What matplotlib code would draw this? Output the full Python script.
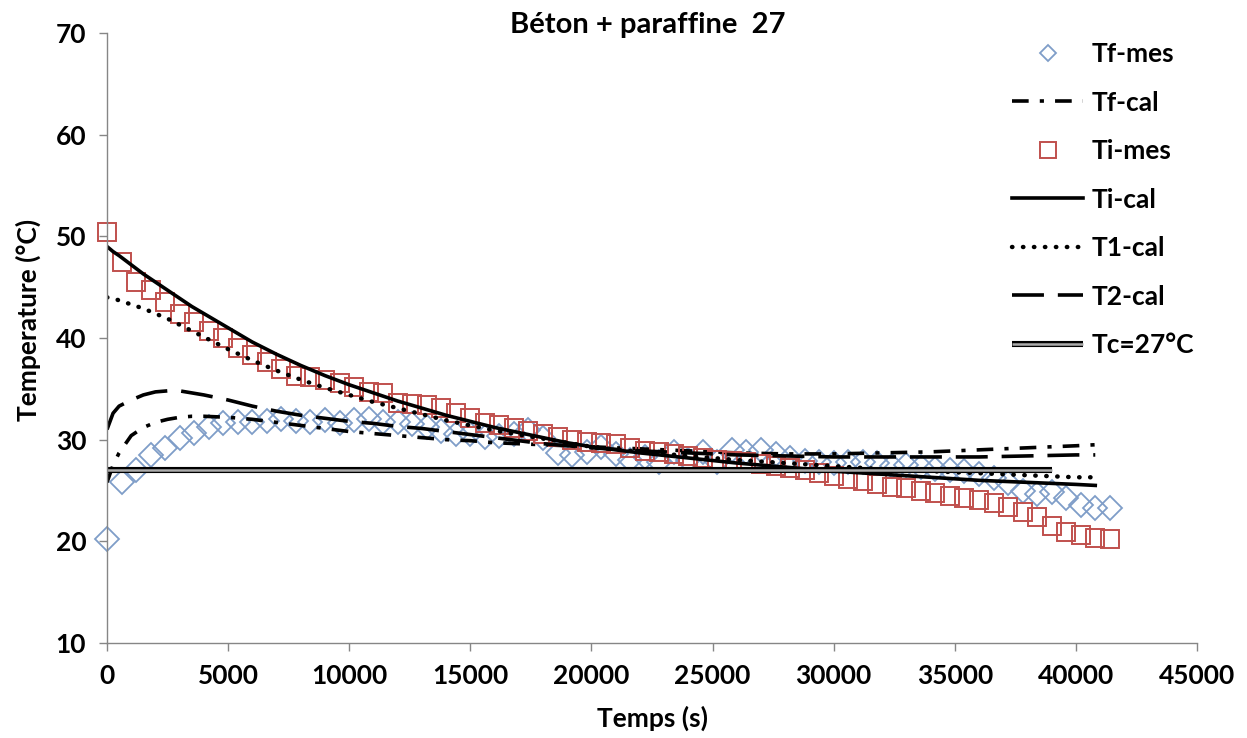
import matplotlib
matplotlib.use("Agg")
import matplotlib.pyplot as plt
import matplotlib.patheffects as pe

plt.rcParams['font.family'] = ['Lato', 'DejaVu Sans']
plt.rcParams['font.weight'] = 'bold'
plt.rcParams['lines.scale_dashes'] = False

# ---------------- data ----------------
t_mes = list(range(0, 41401, 600))

tf_mes = [20.2, 25.8, 27.0, 28.5, 29.2, 30.2, 30.7, 31.2, 31.6, 31.7,
          31.7, 31.8, 32.0, 31.8, 31.7, 31.9, 31.6, 31.9, 32.0, 31.7,
          31.7, 31.5, 31.2, 30.9, 30.6, 30.6, 30.3, 30.4, 30.6, 31.0,
          30.2, 28.7, 28.5, 28.8, 29.3, 28.6, 28.0, 28.3, 27.8, 28.8,
          28.0, 28.8, 27.8, 29.0, 28.8, 29.0, 28.6, 28.2, 27.9, 27.8,
          27.7, 27.8, 27.8, 27.7, 27.4, 27.5, 27.3, 27.1, 27.0, 26.9,
          26.6, 26.2, 25.7, 25.0, 24.7, 24.9, 24.3, 23.6, 23.3, 23.3]

ti_mes = [50.4, 47.5, 45.5, 44.7, 43.5, 42.4, 41.6, 40.7, 40.0, 39.0,
          38.3, 37.6, 37.0, 36.3, 36.2, 35.9, 35.6, 35.2, 34.7, 34.6,
          33.6, 33.5, 33.4, 33.1, 32.6, 32.1, 31.6, 31.4, 31.1, 30.9,
          30.6, 30.3, 30.0, 29.8, 29.7, 29.6, 29.2, 28.9, 28.8, 28.6,
          28.4, 28.2, 28.0, 27.9, 27.8, 27.6, 27.4, 27.2, 27.0, 26.7,
          26.4, 26.1, 25.9, 25.6, 25.3, 25.2, 25.0, 24.8, 24.5, 24.3,
          24.1, 23.8, 23.4, 22.9, 22.4, 21.5, 20.9, 20.6, 20.3, 20.2]

t_cal = [0, 250, 500, 1000, 1500, 2000, 2500, 3000, 3500, 4000, 5000,
         6000, 7000, 8000, 9000, 10000, 11000, 12000, 13000, 14000, 15000,
         16000, 17000, 18000, 19000, 20000, 22000, 24000, 26000, 28000,
         30000, 32000, 34000, 36000, 38000, 40000, 40800]

tf_cal = [25.8, 27.5, 28.7, 30.4, 31.2, 31.7, 32.0, 32.2, 32.3, 32.3, 32.2,
          32.0, 31.7, 31.4, 31.1, 30.8, 30.6, 30.4, 30.2, 30.0, 29.9,
          29.7, 29.6, 29.5, 29.4, 29.3, 29.1, 28.9, 28.7, 28.6,
          28.6, 28.7, 28.8, 29.0, 29.2, 29.4, 29.5]

ti_cal = [49.0, 48.5, 48.1, 47.2, 46.3, 45.5, 44.7, 43.9, 43.1, 42.4, 41.0,
          39.6, 38.4, 37.3, 36.3, 35.4, 34.6, 33.8, 33.1, 32.4, 31.8,
          31.2, 30.7, 30.2, 29.7, 29.3, 28.7, 28.2, 27.7, 27.3,
          26.9, 26.6, 26.3, 26.0, 25.8, 25.6, 25.5]

t1_cal = [44.0, 43.9, 43.7, 43.3, 42.9, 42.4, 41.9, 41.3, 40.7, 40.1, 38.9,
          37.8, 36.8, 35.9, 35.1, 34.4, 33.7, 33.1, 32.5, 31.9, 31.4,
          30.9, 30.5, 30.1, 29.7, 29.3, 28.8, 28.4, 28.0, 27.7,
          27.4, 27.1, 26.9, 26.7, 26.5, 26.3, 26.3]

t2_cal = [31.0, 32.6, 33.3, 33.9, 34.4, 34.7, 34.8, 34.8, 34.6, 34.4, 33.9,
          33.3, 32.8, 32.4, 32.1, 31.8, 31.6, 31.3, 31.1, 30.8, 30.5,
          30.2, 29.9, 29.6, 29.4, 29.2, 28.9, 28.7, 28.5, 28.4,
          28.3, 28.3, 28.3, 28.3, 28.4, 28.5, 28.5]

t_tc = [0, 39000]
tc = [27, 27]

title = "Béton + paraffine  27"
xlabel = "Temps (s)"
ylabel = "Temperature (°C)"
xticks = list(range(0, 45001, 5000))
yticks = list(range(10, 71, 10))

# ---------------- figure ----------------
W, H = 1247, 738
fig = plt.figure(figsize=(W / 100, H / 100), dpi=100)
ax = fig.add_axes([107 / W, 1 - 643 / H, (1197 - 107) / W, (643 - 33) / H])

FS = 19
blue = '#7f9dc8'
red = '#c0504d'

l_tfm, = ax.plot(t_mes, tf_mes, linestyle='none', marker='D', ms=12,
                 mfc='none', mec=blue, mew=1.3, clip_on=False, label='Tf-mes')
l_tfc, = ax.plot(t_cal, tf_cal, color='black', lw=2.6,
                 dashes=(12, 8, 3, 8), label='Tf-cal')
l_tim, = ax.plot(t_mes, ti_mes, linestyle='none', marker='s', ms=13.5,
                 mfc='none', mec=red, mew=1.4, clip_on=False, label='Ti-mes')
l_tic, = ax.plot(t_cal, ti_cal, color='black', lw=2.6, label='Ti-cal')
l_t1, = ax.plot(t_cal, t1_cal, color='black', lw=3.2, dashes=(0.3, 7.6),
                dash_capstyle='round', label='T1-cal')
l_t2, = ax.plot(t_cal, t2_cal, color='black', lw=2.6, dashes=(23, 10),
                label='T2-cal')
l_tc, = ax.plot(t_tc, tc, color='#ababab', lw=1.8, solid_capstyle='butt',
                path_effects=[pe.Stroke(linewidth=4.4, foreground='black'),
                              pe.Normal()], label='Tc=27°C')

ax.set_xlim(0, 45000)
ax.set_ylim(10, 70)
ax.set_xticks(xticks)
ax.set_yticks(yticks)
ax.tick_params(direction='out', length=6, width=1, color='#868686',
               labelsize=FS, pad=9)
for s in ['top', 'right']:
    ax.spines[s].set_visible(False)
for s in ['left', 'bottom']:
    ax.spines[s].set_color('#868686')
    ax.spines[s].set_linewidth(1)

fig.text(648 / W, 1 - 25 / H, title, ha='center', va='center',
         fontsize=21, fontweight='bold')
fig.text(652 / W, 1 - 718 / H, xlabel, ha='center', va='center',
         fontsize=FS, fontweight='bold')
fig.text(28 / W, 1 - 320 / H, ylabel, ha='center', va='center',
         rotation=90, fontsize=FS, fontweight='bold')

leg = ax.legend(handles=[l_tfm, l_tfc, l_tim, l_tic, l_t1, l_t2, l_tc],
                loc='upper left', bbox_to_anchor=(1012 / W, 1 - 42 / H),
                bbox_transform=fig.transFigure, frameon=False,
                fontsize=FS, handlelength=2.7, handletextpad=0.3,
                labelspacing=0.93, borderpad=0, borderaxespad=0)
lines = leg.get_lines()
lines[0].set_markersize(8.5)
lines[2].set_markersize(12)

fig.savefig('out.png', dpi=100)
